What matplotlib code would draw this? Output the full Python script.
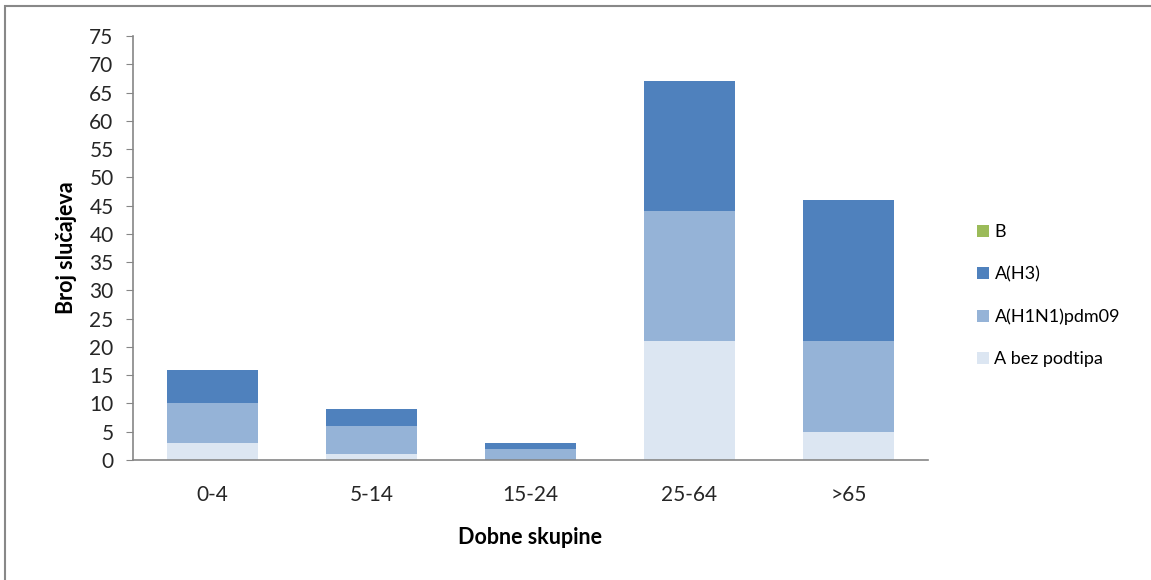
import numpy as np
import matplotlib.pyplot as plt
from matplotlib.patches import Rectangle

# data
age_groups = ["0-4", "5-14", "15-24", "25-64", ">65"]
a_bez_podtipa = [3, 1, 0, 21, 5]
a_h1n1 = [7, 5, 2, 23, 16]
a_h3 = [6, 3, 1, 23, 25]
b_values = [0, 0, 0, 0, 0]

plt.rcParams["font.family"] = ["Lato", "DejaVu Sans"]

fig = plt.figure(figsize=(11.51, 5.80), dpi=100)
ax = fig.add_axes([0.1156, 0.2069, 0.6906, 0.7310])

x = np.arange(len(age_groups))
w = 0.57
bottom = np.zeros(len(age_groups))
series = [
    ("A bez podtipa", a_bez_podtipa, "#DCE6F2"),
    ("A(H1N1)pdm09", a_h1n1, "#95B3D7"),
    ("A(H3)", a_h3, "#4F81BD"),
    ("B", b_values, "#9BBB59"),
]
handles = []
for name, vals, col in series:
    h = ax.bar(x, vals, w, bottom=bottom, color=col, label=name)
    bottom += np.array(vals)
    handles.append(h)

ax.set_xlim(-0.5, len(age_groups) - 0.5)
ax.set_ylim(0, 75)
ax.set_yticks(range(0, 80, 5))
ax.set_xticks(x)
ax.set_xticklabels(age_groups)
ax.tick_params(axis="y", length=5, color="#868686", labelsize=15, pad=9, labelcolor="#262626")
ax.tick_params(axis="x", length=0, labelsize=15, pad=18, labelcolor="#262626")
for s in ["top", "right"]:
    ax.spines[s].set_visible(False)
for s in ["left", "bottom"]:
    ax.spines[s].set_color("#868686")
    ax.spines[s].set_linewidth(1.2)

ax.set_ylabel("Broj slučajeva", fontsize=15.5, fontweight="bold", labelpad=9)
ax.set_xlabel("Dobne skupine", fontsize=15.5, fontweight="bold", labelpad=16)

fig.legend(handles[::-1], [s[0] for s in series][::-1], loc="center left",
           bbox_to_anchor=(0.835, 0.49), frameon=False, fontsize=13,
           handlelength=0.65, handleheight=0.65, handletextpad=0.3,
           labelspacing=1.45)

# outer frame (top and left edges visible)
fig.add_artist(Rectangle((0.0045, -0.05), 1.2, 1.04, transform=fig.transFigure,
                         fill=False, edgecolor="#888888", linewidth=1.5))

fig.savefig("out.png", dpi=100)
